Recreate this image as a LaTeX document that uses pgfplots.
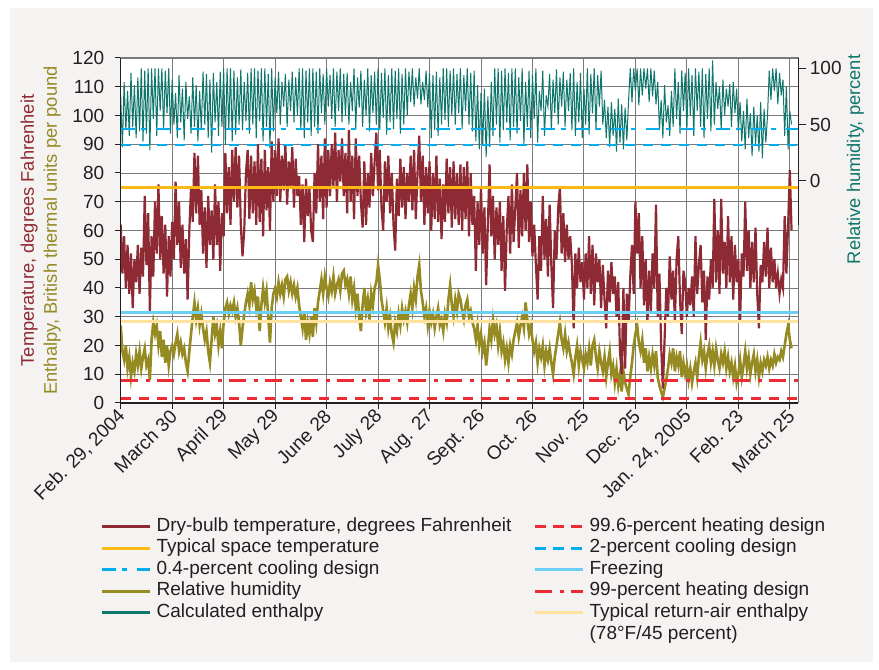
\documentclass[border=0pt]{standalone}
\usepackage{fontspec}
\setmainfont{Liberation Sans}
\usepackage{pgfplots}
\usepackage{pgfplotstable}
\pgfplotsset{compat=1.18}

\definecolor{bgpanel}{HTML}{F4F3F1}
\definecolor{tempred}{HTML}{8E2A33}
\definecolor{enthol}{HTML}{968A22}
\definecolor{rhteal}{HTML}{0E766B}
\definecolor{spacegold}{HTML}{FDB913}
\definecolor{freezeblue}{HTML}{6CCFF6}
\definecolor{returnyellow}{HTML}{FFE29E}
\definecolor{heatred}{HTML}{ED2B34}
\definecolor{coolblue}{HTML}{00AEEF}
\definecolor{gridgray}{HTML}{7A7A7A}
\definecolor{textdark}{HTML}{231F20}

\newcommand{\tickfont}{\fontsize{19bp}{22bp}\selectfont}
\newcommand{\labfont}{\fontsize{18.3bp}{23bp}\selectfont}
\newcommand{\legfont}{\fontsize{19bp}{22bp}\selectfont}

% Dry-bulb temperature, deg F, one value per day from Feb. 29, 2004
\pgfplotstableread[header=false,row sep=\\]{
62\\45\\58\\40\\55\\38\\52\\33\\50\\42\\
55\\38\\54\\44\\72\\48\\66\\32\\58\\44\\
70\\52\\76\\50\\65\\45\\62\\37\\58\\44\\
63\\50\\77\\55\\70\\47\\62\\45\\57\\36\\
60\\75\\63\\87\\66\\86\\62\\74\\52\\68\\
47\\72\\55\\67\\50\\76\\55\\70\\46\\66\\
58\\87\\66\\82\\62\\88\\70\\89\\68\\86\\
62\\51\\60\\80\\88\\64\\86\\66\\84\\62\\
90\\63\\85\\58\\88\\67\\82\\60\\91\\70\\
88\\72\\92\\70\\86\\74\\90\\69\\84\\75\\
89\\68\\85\\72\\79\\62\\76\\56\\78\\65\\
75\\60\\56\\80\\66\\90\\70\\86\\64\\92\\
68\\88\\72\\90\\75\\94\\70\\88\\77\\92\\
72\\87\\66\\95\\70\\86\\64\\92\\72\\86\\
70\\61\\84\\62\\80\\68\\87\\72\\84\\94\\
74\\88\\68\\60\\84\\70\\86\\66\\80\\62\\
53\\78\\65\\85\\68\\82\\64\\80\\70\\86\\
67\\88\\64\\80\\93\\70\\86\\62\\82\\66\\
84\\60\\80\\64\\86\\63\\78\\57\\76\\63\\
85\\66\\82\\61\\84\\64\\80\\62\\83\\60\\
82\\64\\84\\58\\80\\62\\72\\46\\70\\55\\
75\\52\\68\\41\\62\\83\\58\\72\\50\\68\\
55\\70\\46\\65\\39\\60\\72\\52\\76\\56\\
68\\80\\54\\74\\58\\80\\60\\83\\56\\70\\
51\\62\\48\\36\\58\\46\\72\\50\\64\\44\\
69\\48\\33\\60\\50\\68\\75\\52\\66\\49\\
62\\50\\58\\48\\26\\52\\40\\54\\42\\49\\
36\\52\\40\\58\\38\\55\\34\\52\\42\\50\\
33\\48\\36\\26\\46\\35\\49\\38\\44\\30\\
42\\18\\10\\40\\12\\38\\28\\44\\55\\38\\
70\\52\\66\\40\\58\\34\\50\\28\\46\\32\\
52\\40\\69\\30\\45\\20\\5\\22\\40\\30\\
51\\36\\46\\28\\50\\58\\36\\24\\46\\42\\
30\\40\\34\\44\\30\\58\\38\\48\\55\\35\\
46\\22\\44\\36\\50\\40\\71\\42\\60\\38\\
71\\45\\56\\40\\65\\42\\58\\36\\55\\42\\
50\\28\\52\\44\\70\\46\\60\\40\\56\\42\\
61\\38\\26\\48\\42\\56\\44\\61\\40\\54\\
42\\50\\40\\45\\38\\43\\40\\65\\45\\62\\
81\\60\\
}\temptab

% Enthalpy, Btu/lb
\pgfplotstableread[header=false,row sep=\\]{
27\\18\\15\\20\\12\\16\\9\\14\\11\\17\\
13\\18\\12\\16\\19\\13\\15\\8\\22\\28\\
24\\27\\20\\25\\16\\22\\14\\20\\13\\18\\
20\\17\\21\\24\\18\\21\\17\\19\\14\\11\\
18\\24\\30\\35\\29\\33\\27\\31\\26\\22\\
25\\18\\14\\22\\30\\24\\27\\20\\25\\19\\
28\\33\\35\\31\\34\\32\\35\\30\\33\\28\\
20\\26\\31\\35\\38\\34\\42\\36\\39\\33\\
37\\25\\34\\40\\35\\39\\30\\21\\33\\38\\
40\\37\\42\\38\\41\\37\\43\\44\\39\\42\\
38\\41\\37\\40\\34\\30\\26\\32\\22\\28\\
24\\30\\23\\33\\28\\35\\39\\43\\38\\44\\
40\\37\\42\\39\\44\\38\\41\\43\\39\\45\\
46\\41\\43\\38\\44\\36\\40\\33\\38\\30\\
25\\34\\40\\32\\36\\29\\38\\34\\40\\42\\
48\\43\\36\\32\\28\\33\\26\\30\\24\\21\\
28\\25\\31\\27\\33\\29\\32\\28\\34\\38\\
33\\40\\36\\44\\48\\39\\35\\30\\33\\27\\
32\\28\\31\\26\\30\\33\\27\\29\\25\\31\\
28\\36\\41\\34\\30\\36\\32\\38\\36\\32\\
29\\34\\36\\30\\32\\28\\26\\22\\27\\20\\
24\\18\\21\\13\\19\\26\\22\\29\\24\\27\\
20\\25\\18\\21\\15\\19\\14\\20\\17\\22\\
25\\28\\23\\27\\30\\26\\35\\29\\24\\27\\
22\\18\\21\\14\\19\\16\\20\\13\\18\\15\\
19\\14\\10\\16\\20\\24\\28\\22\\19\\24\\
18\\21\\17\\14\\10\\16\\20\\13\\18\\15\\
12\\17\\14\\19\\13\\20\\22\\16\\12\\18\\
14\\11\\16\\9\\14\\18\\10\\13\\7\\12\\
6\\10\\4\\11\\7\\5\\3\\9\\14\\20\\
24\\27\\21\\18\\22\\14\\19\\11\\16\\12\\
17\\13\\18\\9\\6\\4\\2\\5\\8\\12\\
17\\14\\19\\11\\16\\13\\18\\9\\14\\10\\
13\\8\\12\\7\\11\\14\\9\\16\\21\\15\\
18\\12\\17\\20\\14\\18\\13\\19\\15\\12\\
17\\14\\18\\12\\16\\11\\14\\9\\13\\7\\
10\\15\\9\\13\\18\\12\\16\\10\\14\\17\\
11\\15\\9\\14\\11\\15\\13\\16\\12\\15\\
13\\17\\14\\16\\15\\18\\16\\20\\24\\27\\
22\\19\\
}\enthtab

% Relative humidity, percent
\pgfplotstableread[header=false,row sep=\\]{
75\\30\\88\\45\\80\\40\\96\\48\\85\\38\\
92\\44\\100\\35\\98\\42\\100\\27\\100\\55\\
100\\40\\100\\62\\100\\45\\98\\60\\100\\42\\
90\\50\\78\\38\\94\\52\\82\\36\\88\\55\\
75\\42\\92\\48\\85\\35\\80\\45\\97\\50\\
95\\38\\90\\25\\96\\52\\88\\40\\97\\48\\
100\\32\\100\\45\\100\\35\\98\\41\\92\\50\\
99\\45\\88\\53\\96\\42\\100\\50\\100\\38\\
98\\53\\100\\35\\100\\48\\95\\29\\100\\44\\
92\\60\\97\\50\\88\\66\\95\\48\\90\\62\\
97\\52\\92\\58\\100\\45\\100\\38\\98\\52\\
100\\40\\100\\48\\97\\42\\100\\60\\95\\50\\
100\\66\\94\\55\\100\\48\\97\\62\\100\\52\\
95\\58\\96\\50\\88\\62\\100\\46\\92\\65\\
98\\48\\90\\58\\100\\44\\94\\60\\97\\50\\
100\\45\\96\\56\\100\\41\\94\\52\\100\\46\\
98\\55\\100\\42\\95\\50\\100\\58\\97\\70\\
100\\66\\92\\73\\100\\68\\88\\72\\98\\65\\
96\\38\\94\\45\\97\\40\\92\\50\\100\\54\\
100\\48\\98\\58\\100\\50\\95\\60\\100\\46\\
94\\62\\100\\50\\96\\44\\98\\35\\85\\28\\
78\\32\\82\\21\\75\\30\\88\\40\\100\\50\\
100\\34\\98\\45\\100\\52\\96\\36\\100\\48\\
100\\42\\92\\53\\100\\32\\88\\48\\98\\38\\
94\\55\\100\\34\\80\\62\\98\\40\\76\\66\\
95\\45\\90\\60\\99\\50\\92\\66\\97\\48\\
90\\62\\96\\45\\100\\40\\88\\52\\96\\38\\
82\\50\\100\\41\\95\\60\\100\\45\\94\\66\\
98\\50\\72\\38\\66\\30\\70\\40\\64\\26\\
73\\34\\68\\28\\65\\36\\71\\100\\70\\100\\
80\\100\\67\\100\\76\\100\\82\\100\\70\\100\\
75\\98\\68\\88\\45\\72\\38\\85\\52\\67\\
40\\80\\48\\100\\55\\88\\42\\98\\62\\96\\
45\\100\\58\\94\\40\\100\\62\\97\\48\\100\\
38\\95\\55\\100\\44\\107\\50\\88\\64\\84\\
45\\90\\58\\82\\66\\86\\48\\88\\60\\82\\
44\\70\\35\\62\\28\\73\\38\\60\\22\\66\\
32\\58\\26\\70\\20\\64\\34\\58\\98\\72\\
100\\80\\100\\68\\96\\76\\90\\40\\84\\28\\
62\\50\\
}\rhtab

\begin{document}
\begin{tikzpicture}
\fill[bgpanel] (10bp,8bp) rectangle (873bp,662bp);

\begin{axis}[
  name=main,
  at={(120.7bp,267bp)}, anchor=south west,
  scale only axis, width=677.7bp, height=345bp,
  xmin=0, xmax=395, ymin=0, ymax=120,
  axis background/.style={fill=white},
  axis line style={gridgray, line width=1bp},
  xtick={0,30,...,390},
  xticklabels={{Feb. 29, 2004},{March 30},{April 29},{May 29},{June 28},{July 28},{Aug. 27},{Sept. 26},{Oct. 26},{Nov. 25},{Dec. 25},{Jan. 24, 2005},{Feb. 23},{March 25}},
  ytick={0,10,...,120},
  xtick pos=bottom, ytick pos=left,
  tick align=outside, major tick length=6bp,
  tick style={textdark, line width=1bp},
  grid=major, major grid style={gridgray, line width=0.9bp},
  xticklabel style={font=\tickfont, text=textdark, rotate=45, anchor=east, inner sep=1bp, xshift=-1bp, yshift=-4bp},
  yticklabel style={font=\tickfont, text=textdark, xshift=-7bp},
  /pgf/number format/assume math mode=true,
  ylabel={\textcolor{tempred}{Temperature, degrees Fahrenheit}\\\textcolor{enthol}{Enthalpy, British thermal units per pound}},
  ylabel style={align=center, font=\labfont},
  ylabel shift=5bp,
  legend columns=5, transpose legend, legend cell align=left,
  legend image code/.code={\draw[#1] (0bp,0bp) -- (48bp,0bp);},
  legend style={at={(-0.03,-0.331)}, anchor=north west, draw=none, fill=none,
    font=\legfont, text=textdark, inner sep=0pt, row sep=3bp,
    nodes={inner xsep=5bp, inner ysep=0bp, text height=14bp, text depth=4.5bp},
    /tikz/every even column/.append style={column sep=17bp}},
]
\addplot[enthol, line width=2.6bp, forget plot] table[x expr=\coordindex, y index=0] {\enthtab};
\addplot[tempred, line width=2.2bp, forget plot] table[x expr=\coordindex, y index=0] {\temptab};
\addplot[spacegold, line width=3bp, forget plot] coordinates {(0,74.8) (395,74.8)};
\addplot[freezeblue, line width=2.8bp, forget plot] coordinates {(0,31.5) (395,31.5)};
\addplot[returnyellow, line width=3.2bp, forget plot] coordinates {(0,28.3) (395,28.3)};
\addplot[heatred, line width=2.6bp, dash pattern=on 17bp off 8bp on 4bp off 7bp, forget plot] coordinates {(0,7.8) (395,7.8)};
\addplot[heatred, line width=2.6bp, dash pattern=on 10.5bp off 7.5bp, forget plot] coordinates {(0,1.6) (395,1.6)};

\addlegendimage{tempred, line width=3bp}
\addlegendentry{Dry-bulb temperature, degrees Fahrenheit}
\addlegendimage{spacegold, line width=3bp}
\addlegendentry{Typical space temperature}
\addlegendimage{coolblue, line width=3bp, dash pattern=on 14bp off 6bp on 5bp off 10bp}
\addlegendentry{0.4-percent cooling design}
\addlegendimage{enthol, line width=3bp}
\addlegendentry{Relative humidity}
\addlegendimage{rhteal, line width=3bp}
\addlegendentry{Calculated enthalpy}
\addlegendimage{heatred, line width=3bp, dash pattern=on 10.5bp off 7.5bp}
\addlegendentry{99.6-percent heating design}
\addlegendimage{coolblue, line width=3bp, dash pattern=on 10.5bp off 7.5bp}
\addlegendentry{2-percent cooling design}
\addlegendimage{freezeblue, line width=3bp}
\addlegendentry{Freezing}
\addlegendimage{heatred, line width=3bp, dash pattern=on 17bp off 8bp on 4bp off 7bp}
\addlegendentry{99-percent heating design}
\addlegendimage{returnyellow, line width=3.2bp}
\addlegendentry{\begin{tabular}[t]{@{}l@{}}Typical return-air enthalpy\\(78\textdegree F/45 percent)\end{tabular}}
\end{axis}

\begin{axis}[
  at={(120.7bp,267bp)}, anchor=south west,
  scale only axis, width=677.7bp, height=345bp,
  xmin=0, xmax=395, ymin=-197.8, ymax=109.2,
  axis x line=none, axis y line*=right,
  axis line style={draw=none},
  ytick={0,50,100},
  tick align=outside, major tick length=8bp,
  tick style={textdark, line width=1bp},
  yticklabel style={font=\tickfont, text=textdark},
  /pgf/number format/assume math mode=true,
  every axis y label/.style={at={(rel axis cs:1.084,0.706)}, rotate=90, anchor=center},
  ylabel={Relative humidity, percent},
  ylabel style={font=\labfont, text=rhteal},
]
\addplot[rhteal, line width=1bp] table[x expr=\coordindex, y index=0] {\rhtab};
\addplot[coolblue, line width=2.6bp, dash pattern=on 14bp off 6bp on 5bp off 10bp] coordinates {(0,46) (395,46)};
\addplot[coolblue, line width=2.6bp, dash pattern=on 10.5bp off 7.5bp] coordinates {(0,31.8) (395,31.8)};
\coordinate (rdark) at (rel axis cs:1,0.516);
\coordinate (rtop) at (rel axis cs:1,1);
\end{axis}

\draw[textdark, line width=1.2bp] (main.north west) -- (main.south west) -- (main.south east);
\draw[textdark, line width=1.2bp] (rdark) -- (rtop);

\pgfresetboundingbox
\useasboundingbox (0,0) rectangle (879bp,670bp);
\end{tikzpicture}
\end{document}
